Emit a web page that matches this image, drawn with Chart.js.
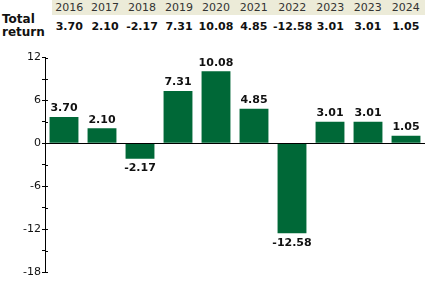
<!DOCTYPE html>
<html>
<head>
<meta charset="utf-8">
<script src="https://cdn.jsdelivr.net/npm/chart.js@4/dist/chart.umd.min.js"></script>
<style>
  body { margin: 0; background: #fff; font-family: "DejaVu Sans", Verdana, sans-serif; }
  #wrap { position: relative; width: 425px; height: 288px; overflow: hidden; }
  #years { position: absolute; left: 52px; top: 0; width: 373px; height: 15px; background: #ecebd8; }
  .cell { position: absolute; text-align: center; font-size: 11px; }
  .yr { top: 1px; color: #333; }
  .val { top: 20px; font-weight: bold; color: #111; }
  #rowLabel { position: absolute; left: 2px; top: 13px; font-size: 12px; font-weight: bold; line-height: 13px; color: #111; }
  #chartBox { position: absolute; left: 0; top: 50px; width: 425px; height: 238px; }
</style>
</head>
<body>
<div id="wrap">
  <div id="years"></div>
  <div id="rowLabel">Total<br>return</div>
  <div id="chartBox"><canvas id="returnChart"></canvas></div>
</div>
<script>
// data
const years = ["2016", "2017", "2018", "2019", "2020", "2021", "2022", "2023", "2023", "2024"];
const totalReturn = [3.70, 2.10, -2.17, 7.31, 10.08, 4.85, -12.58, 3.01, 3.01, 1.05];
const yTicks = [-18, -12, -6, 0, 6, 12];

// header table column edges
const colEdges = [52, 86.5, 123.5, 160.5, 197.5, 234.5, 273, 311.5, 349, 386.5, 425];

const wrap = document.getElementById("wrap");
for (let i = 0; i < years.length; i++) {
    const left = colEdges[i];
    const width = colEdges[i + 1] - colEdges[i];
    const yr = document.createElement("div");
    yr.className = "cell yr";
    yr.style.left = left + "px";
    yr.style.width = width + "px";
    yr.textContent = years[i];
    wrap.appendChild(yr);

    const val = document.createElement("div");
    val.className = "cell val";
    val.style.left = left + "px";
    val.style.width = width + "px";
    val.textContent = totalReturn[i].toFixed(2);
    wrap.appendChild(val);
}

// value labels, zero line and ticks crossing the axis
const extras = {
    id: "extras",
    afterDatasetsDraw(chart) {
        const ctx = chart.ctx;
        const y = chart.scales.y;
        const area = chart.chartArea;
        ctx.save();
        // zero line
        const zero = Math.round(y.getPixelForValue(0)) + 0.5;
        ctx.strokeStyle = "#000";
        ctx.lineWidth = 1;
        ctx.beginPath();
        ctx.moveTo(area.left, zero);
        ctx.lineTo(area.right, zero);
        ctx.stroke();
        // right half of tick marks
        y.ticks.forEach(t => {
            const p = Math.round(y.getPixelForValue(t.value)) + 0.5;
            ctx.beginPath();
            ctx.moveTo(area.left, p);
            ctx.lineTo(area.left + 3, p);
            ctx.stroke();
        });
        // labels
        ctx.font = "bold 11px 'DejaVu Sans'";
        ctx.fillStyle = "#111";
        ctx.textAlign = "center";
        chart.getDatasetMeta(0).data.forEach((bar, i) => {
            const v = totalReturn[i];
            if (v >= 0) {
                ctx.textBaseline = "bottom";
                ctx.fillText(v.toFixed(2), bar.x, bar.y - 3);
            } else {
                ctx.textBaseline = "top";
                ctx.fillText(v.toFixed(2), bar.x, bar.y + 4);
            }
        });
        ctx.restore();
    }
};

new Chart(document.getElementById("returnChart"), {
    type: "bar",
    data: {
        labels: years,
        datasets: [{
            data: totalReturn,
            backgroundColor: "#006837",
            barPercentage: 0.76,
            categoryPercentage: 1.0
        }]
    },
    options: {
        responsive: true,
        maintainAspectRatio: false,
        animation: false,
        layout: { padding: { top: 6, bottom: 16, left: 0, right: 0 } },
        plugins: {
            legend: { display: false },
            tooltip: { enabled: false }
        },
        scales: {
            x: { display: false },
            y: {
                min: -18,
                max: 12,
                afterBuildTicks(scale) {
                    const t = [];
                    for (let v = -18; v <= 12; v += 3) t.push({ value: v });
                    scale.ticks = t;
                },
                afterFit(scale) { scale.width = 45; },
                border: { display: true, color: "#000", width: 1 },
                grid: { drawOnChartArea: false, color: "#000", tickLength: 3 },
                ticks: {
                    color: "#111",
                    font: { family: "DejaVu Sans", size: 11 },
                    padding: 1,
                    callback: v => yTicks.includes(v) ? String(v) : ""
                }
            }
        }
    },
    plugins: [extras]
});
</script>
</body>
</html>
